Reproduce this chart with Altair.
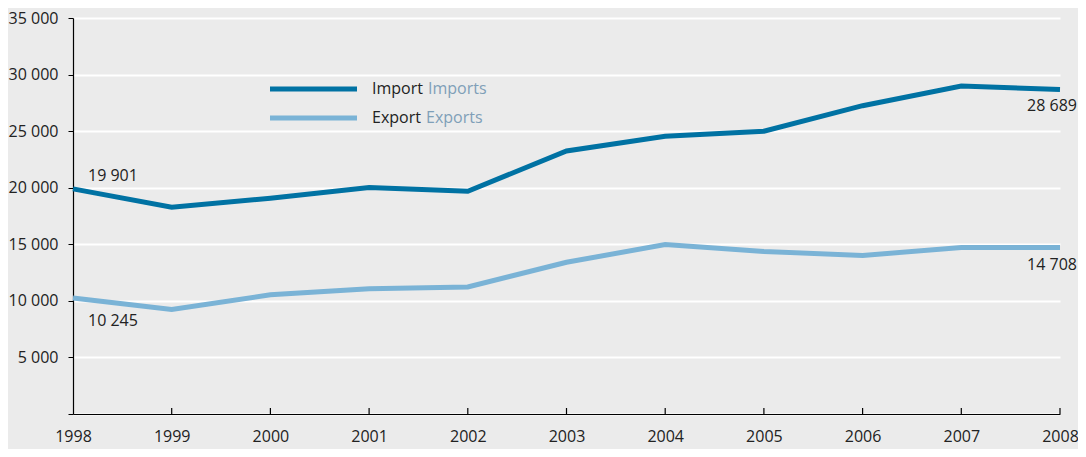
import altair as alt
import pandas as pd

years = [1998, 1999, 2000, 2001, 2002, 2003, 2004, 2005, 2006, 2007, 2008]
imports = [19901, 18280, 19070, 20020, 19680, 23250, 24550, 24990, 27250, 28990, 28689]
exports = [10245, 9230, 10530, 11060, 11230, 13410, 14980, 14370, 14020, 14710, 14708]
series_names = ["Import", "Export"]
series_en = ["Imports", "Exports"]
colors = ["#0072a3", "#7ab3d6"]

FONT = "Open Sans"
FS = 16
BG = "#ebebeb"

rows = []
for y, v in zip(years, imports):
    rows.append({"year": y, "value": v, "series": "Import"})
for y, v in zip(years, exports):
    rows.append({"year": y, "value": v, "series": "Export"})
df = pd.DataFrame(rows)

W, H = 987, 396
PAD_TOP = 10

xscale = alt.Scale(domain=[1998, 2008], nice=False, zero=False)
yscale = alt.Scale(domain=[0, 35000], nice=False)

fmt = "replace(format(datum.value, ','), ',', ' ')"

x_enc = alt.X("year:Q", scale=xscale, title=None,
              axis=alt.Axis(values=years, format="d", grid=False, ticks=False,
                            domainColor="#000000", domainWidth=1.2,
                            labelFont=FONT, labelFontSize=FS, labelColor="#222222",
                            labelPadding=14, labelFlush=False))
y_enc = alt.Y("value:Q", scale=yscale, title=None,
              axis=alt.Axis(values=[0, 5000, 10000, 15000, 20000, 25000, 30000, 35000],
                            labelExpr="datum.value == 0 ? '' : " + fmt,
                            grid=True, gridColor="#ffffff", gridWidth=2,
                            tickSize=5, tickColor="#000000", domainColor="#000000",
                            domainWidth=1.2, labelFont=FONT, labelFontSize=FS,
                            labelColor="#222222", labelPadding=10))

lines = alt.Chart(df).mark_line(strokeWidth=5, strokeCap="butt").encode(
    x=x_enc, y=y_enc,
    color=alt.Color("series:N", scale=alt.Scale(domain=series_names, range=colors), legend=None),
    detail="series:N",
)

xticks = alt.Chart(pd.DataFrame({"year": years[1:]})).mark_rule(color="#000000", strokeWidth=1.2).encode(
    x=alt.X("year:Q", scale=xscale),
    y=alt.value(H), y2=alt.value(H - 6),
)

ann = pd.DataFrame({
    "year": [1998, 1998, 2008, 2008],
    "value": [imports[0], exports[0], imports[-1], exports[-1]],
    "label": ["19 901", "10 245", "28 689", "14 708"],
})

def ann_text(i, align, dx, dy):
    return alt.Chart(ann.iloc[[i]]).mark_text(
        align=align, baseline="middle", dx=dx, dy=dy, font=FONT, fontSize=FS, color="#222222"
    ).encode(x=alt.X("year:Q", scale=xscale), y=alt.Y("value:Q", scale=yscale), text="label:N")

anns = [ann_text(0, "left", 15, -13), ann_text(1, "left", 15, 23),
        ann_text(2, "right", 17, 17), ann_text(3, "right", 17, 17)]

leg = pd.DataFrame({"s": series_names, "en": series_en, "c": colors,
                    "ypos": [89 - 8 - PAD_TOP, 118 - 8 - PAD_TOP],
                    "xen": [355, 353]})
leg_lines = []
leg_texts = []
for i in range(2):
    leg_lines.append(alt.Chart(leg.iloc[[i]]).mark_rule(strokeWidth=5, color=colors[i]).encode(
        x=alt.value(197), x2=alt.value(284), y=alt.value(int(leg.ypos[i]))))
    leg_texts.append(alt.Chart(leg.iloc[[i]]).mark_text(
        align="left", baseline="middle", font=FONT, fontSize=FS, color="#222222").encode(
        x=alt.value(299), y=alt.value(int(leg.ypos[i])), text="s:N"))
    leg_texts.append(alt.Chart(leg.iloc[[i]]).mark_text(
        align="left", baseline="middle", font=FONT, fontSize=FS, color="#7f9fb8").encode(
        x=alt.value(int(leg.xen[i])), y=alt.value(int(leg.ypos[i])), text="en:N"))

chart = alt.layer(lines, xticks, *anns, *leg_lines, *leg_texts).properties(
    width=W, height=H,
    background=BG,
    padding={"left": 65, "top": PAD_TOP, "right": 18, "bottom": 35},
    autosize=alt.AutoSizeParams(type="none"),
).configure_view(stroke=None, fill=BG)

chart.save("out.html", embed_options={"renderer": "svg", "actions": False})
